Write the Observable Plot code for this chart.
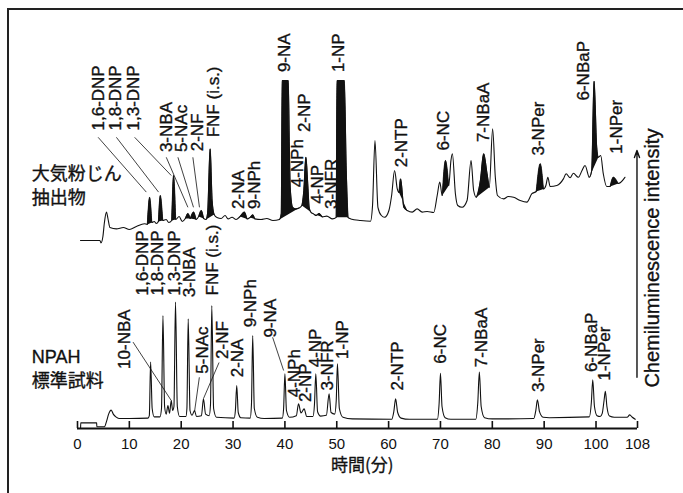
<!DOCTYPE html>
<html><head><meta charset="utf-8">
<script src="https://cdn.jsdelivr.net/npm/d3@7"></script>
<script src="https://cdn.jsdelivr.net/npm/@observablehq/plot@0.6"></script>
<style>
body{margin:0;background:#fff;}
#wrap{position:relative;width:683px;height:493px;overflow:hidden;background:#fff;}
#frame{position:absolute;left:7px;top:8px;width:700px;height:520px;border-top:2px solid #222;border-left:2px solid #222;pointer-events:none;}
#chart{position:absolute;left:0;top:0;}
</style></head><body><div id="wrap"><div id="chart"></div><div id="frame"></div></div>
<script>
// ---- data (time in minutes, chemiluminescence intensity in arbitrary units) ----
const xTicks = [0,10,20,30,40,50,60,70,80,90,100,108];

// Upper trace: 大気粉じん抽出物
const airTime = [0.58,4.33,4.52,4.9,5.19,5.58,5.87,6.25,7.5,8.85,10.0,11.35,12.9,13.46,13.9,14.33,14.8,15.2,15.6,15.96,16.44,17.1,17.6,18.17,18.52,18.94,19.6,20.2,20.8,21.29,21.73,22.37,22.88,23.37,23.85,24.33,24.8,25.1,25.58,25.96,26.35,26.9,27.7,28.46,29.04,29.8,30.58,31.35,32.17,32.7,33.27,33.79,34.2,35.4,36.5,37.7,38.94,39.3,39.48,40.63,40.87,41.02,41.48,42.1,42.7,43.27,43.65,44.04,44.42,44.67,45.0,45.58,45.96,46.6,47.2,48.08,49.17,49.9,50.06,51.44,51.83,52.17,52.7,54.6,56.5,56.9,57.37,57.94,58.6,59.23,60.06,60.58,61.15,61.67,62.0,62.3,62.94,63.6,64.56,65.5,66.48,67.44,68.7,69.37,69.87,70.33,70.96,71.6,72.02,72.3,72.88,73.33,74.17,75.13,75.9,76.4,76.92,77.7,78.33,78.98,79.42,80.06,80.58,81.0,82.17,83.08,84.1,85.38,86.67,87.63,88.46,89.23,89.87,90.33,90.71,91.15,92.44,93.71,94.23,95.0,95.63,96.6,97.3,97.88,98.71,99.17,99.62,100.13,100.44,100.9,101.4,102.06,102.7,103.33,104.29,105.58];
const airSignal = [47,47,46.4,48,51.5,54.1,52.5,50.25,49.9,50.25,49.75,50.5,51.2,51,57.8,51.5,51.75,51.25,51.75,58.25,52,52.25,51.5,52,63.25,52.25,53,51.75,52.5,53.75,52.5,54.1,52.25,53,54.5,52.5,52.25,54,69.9,57,53.5,52.75,52.5,53.25,52.4,52.8,52.25,53,54.1,52.4,52.75,53.4,52.4,52.25,52.5,52,52.25,53.75,87,87,69.5,60.3,55.3,54.9,55.1,55.75,59.5,67.8,60.75,55.3,54.1,53.6,53.25,53.75,52.9,53.1,52.4,52.8,87,87,64.5,52.8,52.4,52,51.8,55.75,72,55.3,53.25,52.8,54.5,58.25,64.5,59.9,59,62.4,55.3,54.5,54.1,54.9,54.1,54.25,54,58.25,61.6,58.25,67,60.75,67,68.7,58.7,55.75,55.3,57,67,59.5,57.8,62,68.7,63.7,60.3,74.9,62.8,58.25,57.4,58,57.8,57,56.6,58.7,59.25,66.2,59.9,60.75,62.8,60.5,60.75,62.4,63.7,62.7,63.8,62.8,64.5,65.75,62.8,64.5,86.8,70.3,67.8,68.25,63.7,60.5,60.5,62.8,61.25,62.8];
// time ranges of the blackened peaks in the upper trace
const airFilledPeaks = [[13.46,14.33],[15.6,16.44],[18.17,18.94],[20.8,21.73],[21.73,22.88],[23.37,24.33],[24.8,26.35],[31.35,32.7],[33.27,34.2],[38.94,42.7],[43.27,45.0],[45.58,47.2],[49.9,52.17],[62.0,63.6],[70.33,71.6],[76.92,79.42],[88.46,89.87],[98.71,100.44],[102.7,104.29]];

// Lower trace: NPAH 標準試料
const npahTime = [0.6,0.62,3.7,3.72,5.2,5.6,6.0,6.5,6.9,7.4,8.0,10.0,13.6,13.85,14.1,14.4,14.8,15.9,16.2,16.48,16.8,17.1,17.44,17.75,18.08,18.35,18.6,18.9,19.25,19.7,20.9,21.1,21.35,21.7,22.1,22.56,22.95,23.9,24.29,24.7,25.4,25.65,25.9,26.25,26.8,30.2,30.45,30.71,31.0,31.5,33.3,33.55,33.79,34.1,34.7,36,39.5,39.75,40.0,40.3,40.9,42.2,42.63,43.1,43.71,44.2,45.4,45.7,45.96,46.3,46.9,48.0,48.52,48.9,49.6,49.9,50.13,50.5,51.2,53,60.6,61.0,61.35,61.75,62.4,64,69.4,69.75,70.0,70.3,70.9,72,76.8,77.2,77.5,77.85,78.5,80,88.0,88.4,88.7,89.1,89.8,91,98.7,99.1,99.37,99.7,100.2,100.8,101.2,101.55,101.8,102.1,102.6,103.5,106.0,106.5,107.0,107.56];
const npahSignal = [0,1.4,1.4,0.45,0.45,1.8,3.6,4.6,3.6,2.9,2.5,2.5,2.6,3.2,16.6,5.0,2.9,2.9,5.0,28.25,5.5,3.6,5.75,3.8,7.0,4.5,5.5,31.6,5.5,3.0,3.0,5.0,27.4,4.5,3.3,4.5,3.0,3.2,7.4,3.6,3.2,6,30.75,5,2.8,2.6,4.5,10.75,4.0,2.7,2.6,6,23.25,5,2.8,2.5,2.6,5,13.7,4.5,2.8,3.2,6.2,3.9,4.9,3.0,3.0,6,13.7,4.2,3.1,3.3,8.7,4.0,3.6,7,16.2,5.0,2.8,2.4,2.3,4.2,7.4,4.0,2.6,2.3,2.3,6.5,13.8,5.5,2.7,2.3,2.3,6.5,14.1,5.5,2.7,2.4,2.5,4.6,7.2,4.2,2.8,2.7,2.9,6.5,12.2,5.5,3.2,3.0,3.8,7,9.3,5.5,3.1,2.8,2.8,3.4,2.8,2.3];

// peak labels (name, time of label, signal level at the label's lower end)
const airLabels = ["1,6-DNP","1,8-DNP","1,3-DNP","3-NBA","5-NAc","2-NF","FNF (i.s.)","2-NA","9-NPh","9-NA","4-NPh","2-NP","4-NP","3-NFR","1-NP","2-NTP","6-NC","7-NBaA","3-NPer","6-NBaP","1-NPer"];
const airLabelTime = [4.1,7.3,10.8,17.1,20.0,23.1,26.25,31.06,34.1,39.9,42.4,43.85,46.3,49.0,50.4,62.5,70.6,78.3,88.9,97.55,103.98];
const airLabelLevel = [74.5,74.5,74.5,69.1,69.1,69.3,72.8,54.9,54.9,89.1,60.3,74.1,56.2,54.9,89.1,65.3,69.5,71.6,68.25,82,68.7];

const npahLabels = ["10-NBA","1,6-DNP","1,8-DNP","1,3-DNP","3-NBA","FNF (i.s.)","5-NAc","2-NF","2-NA","9-NPh","9-NA","4-NPh","2-NP","4-NP","3-NFR","1-NP","2-NTP","6-NC","7-NBaA","3-NPer","6-NBaP","1-NPer"];
const npahLabelTime = [9.1,12.63,15.52,18.71,21.6,26.1,24.17,28.0,30.9,33.46,37.3,41.8,44.04,45.96,48.2,51.1,61.67,70.0,78.0,88.9,99.17,101.7];
const npahLabelLevel = [14.9,33.25,33.25,33.25,32.8,33.25,13.7,17.4,12.8,25.3,22.75,7.8,6.6,15.3,9.5,17.4,9.5,16.2,15.3,9.1,14.1,12];

// leader lines [t1, level1, t2, level2]
const leaderLines = [
  [3.98,72.8,13.27,59.1],[7.5,72.8,15.63,59.1],[11.02,72.8,18.08,63.25],
  [17.12,67.8,21.29,55.3],[19.37,67.8,22.37,55.3],[22.25,67.8,23.52,55.3],
  [10.71,21.6,18.08,7.0],[23.5,12.8,22.56,4.1],[27.3,16.5,24.3,7.5],[37.63,22.8,39.75,14.5]
];

const sideLabels = ["大気粉じん","抽出物","NPAH","標準試料"];
const sideLabelLevel = [63.5,57.6,17.9,11.9];
const xTitle = "時間(分)";
const yTitle = "Chemiluminescence intensity";

// ---- build ----
const sans = "'Liberation Sans', Arial, Helvetica, sans-serif";
const cjk = "'Noto Sans CJK JP', sans-serif";
const ink = "#111";

const air = airTime.map((t, i) => ({t, v: airSignal[i]}));
const npah = npahTime.map((t, i) => ({t, v: npahSignal[i]}));
const fillPts = airFilledPeaks.flatMap(([a, b], k) => air.filter(d => d.t >= a && d.t <= b).map(d => ({...d, k})));
const airLab = airLabels.map((s, i) => ({s, t: airLabelTime[i], v: airLabelLevel[i]}));
const npahLab = npahLabels.map((s, i) => ({s, t: npahLabelTime[i], v: npahLabelLevel[i]}));
const leaders = leaderLines.map(([t1, v1, t2, v2]) => ({t1, v1, t2, v2}));
const side = sideLabels.map((s, i) => ({s, t: -8.8, v: sideLabelLevel[i], cjk: /[^\x00-\x7f]/.test(s)}));

const labelStyle = {x: "t", y: "v", text: "s", rotate: -90, textAnchor: "start", lineAnchor: "middle",
  fontSize: 17, fill: ink, stroke: ink, strokeWidth: 0.35};

const chart = Plot.plot({
  width: 683, height: 493,
  marginLeft: 77, marginRight: 46, marginTop: 28, marginBottom: 65,
  x: {domain: [0, 108], axis: null},
  y: {domain: [0, 100], axis: null},
  style: {fontFamily: sans, background: "transparent", color: ink, overflow: "visible"},
  marks: [
    Plot.line(fillPts, {x: "t", y: "v", z: "k", fill: ink, stroke: ink, strokeWidth: 0.8, curve: "monotone-x"}),
    Plot.line(air, {x: "t", y: "v", stroke: ink, strokeWidth: 1.1, curve: "monotone-x"}),
    Plot.line(npah, {x: "t", y: "v", stroke: ink, strokeWidth: 1.1, curve: "monotone-x"}),
    Plot.link(leaders, {x1: "t1", y1: "v1", x2: "t2", y2: "v2", stroke: ink, strokeWidth: 0.8}),
    Plot.text(airLab, labelStyle),
    Plot.text(npahLab, labelStyle),
    Plot.ruleY([0], {stroke: ink, strokeWidth: 2.2}),
    Plot.ruleX(xTicks, {y1: 0, y2: 1.75, stroke: ink, strokeWidth: 1.6}),
    Plot.axisX(xTicks, {tickSize: 0, tickPadding: 10, fontSize: 15, label: null, fill: ink, stroke: ink, strokeWidth: 0.3}),
    Plot.text([{s: xTitle, t: 54.9, v: -9.25}], {x: "t", y: "v", text: "s", fontFamily: cjk, fontSize: 17, fill: ink, stroke: ink, strokeWidth: 0.3}),
    Plot.text(side.filter(d => d.cjk), {x: "t", y: "v", text: "s", textAnchor: "start", fontFamily: cjk, fontSize: 18, fill: ink, stroke: ink, strokeWidth: 0.35}),
    Plot.text(side.filter(d => !d.cjk), {x: "t", y: "v", text: "s", textAnchor: "start", fontSize: 18, fill: ink, stroke: ink, strokeWidth: 0.35}),
    Plot.arrow([{t: 107.9, v1: 12.8, v2: 69.5}], {x1: "t", x2: "t", y1: "v1", y2: "v2", stroke: ink, strokeWidth: 1.4, headLength: 8, headAngle: 40}),
    Plot.text([{s: yTitle, t: 110.9, v: 42.6}], {x: "t", y: "v", text: "s", rotate: -90, fontSize: 20, fill: ink, stroke: ink, strokeWidth: 0.35})
  ]
});
document.getElementById("chart").appendChild(chart);
</script>
</body></html>
